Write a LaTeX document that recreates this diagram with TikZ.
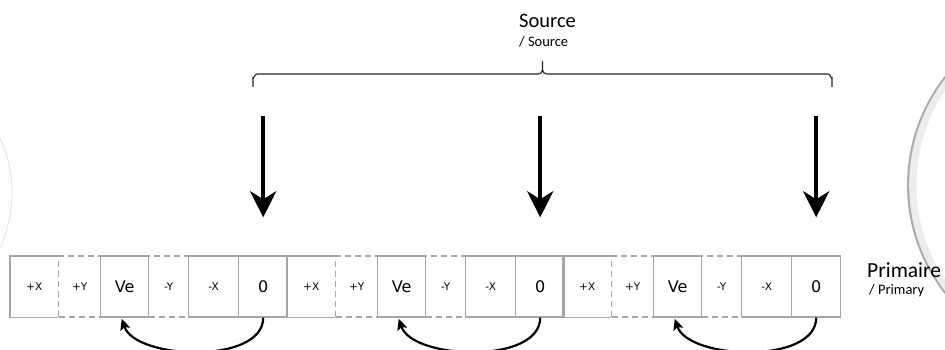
\documentclass[tikz,border=0pt]{standalone}
\usepackage{fontspec}
\setmainfont{Carlito}
\newfontfamily\cellfont{DejaVu Sans}
\usetikzlibrary{arrows.meta,calc}
\definecolor{cellgray}{HTML}{A6A6A6}
\begin{document}
\begin{tikzpicture}[x=1pt,y=-1pt,
  cellline/.style={draw=cellgray,line width=1.4pt},
  cell/.style={minimum height=61pt,inner sep=0pt,anchor=west,
    font=\cellfont\fontsize{10.5}{12}\selectfont},
  solidcell/.style={cell,cellline},
  dashcell/.style={cell,draw=cellgray,line width=1.4pt,dash pattern=on 6pt off 4pt},
  bigtext/.style={font=\cellfont\fontsize{16}{19}\selectfont},
  bigarrow/.style={line width=4.5pt,-{Stealth[length=26pt,width=26pt,inset=8pt]}},
  loop/.style={line width=2.2pt,-{Stealth[length=11pt,width=10pt,inset=2pt]}},
  title/.style={anchor=west,inner sep=0pt,font=\fontsize{20.5}{24}\selectfont},
  subtitle/.style={anchor=west,inner sep=0pt,font=\fontsize{14.5}{17}\selectfont}]
\useasboundingbox (0,0) rectangle (945,350);
% background circles
\draw[gray!22,line width=0.8pt] (-120,193) circle (132);
\fill[gray!65] (1083,185) circle (176);
\fill[gray!14] (1084,185) circle (174.8);
\fill[white] (1086.5,185) circle (170);
% cells
\foreach \g/\o in {1/10,2/287,3/563}{
  \node[dashcell,minimum width=42pt] (py\g) at (\o+48,286.5) {+Y};
  \node[dashcell,minimum width=40pt] (my\g) at (\o+138,286.5) {-Y};
  \node[cell,minimum width=48pt] (px\g) at (\o,286.5) {+X};
  \draw[cellline] (px\g.north east) -- (px\g.north west) -- (px\g.south west) -- (px\g.south east);
  \node[solidcell,bigtext,minimum width=48pt] (ve\g) at (\o+90,286.5) {Ve};
  \node[solidcell,minimum width=50pt] (mx\g) at (\o+178,286.5) {-X};
  \node[solidcell,bigtext,minimum width=49pt] (z\g) at (\o+228,286.5) {0};
  \coordinate (st\g) at ($(z\g.north)+(0,-139)$);
  \coordinate (en\g) at ($(z\g.north)+(0,-38)$);
  \draw[bigarrow] (st\g) -- (en\g);
  \draw[loop] (z\g.south) .. controls ($(z\g.south)+(0,47)$) and ($(ve\g.south)+(11,42)$) .. ($(ve\g.south)+(-3,1)$);
}
% brace
\coordinate (bl) at (253,87);
\coordinate (br) at (832,87);
\coordinate (bt) at (542.5,61);
\draw[line width=1.1pt,black!85]
  (bl) -- (253,78) to[out=-90,in=180] (257,74) -- (538.5,74)
  to[out=0,in=-90] (bt) to[out=-90,in=180] (546.5,74) -- (828,74)
  to[out=0,in=-90] (832,78) -- (br);
% titles
\node[title] (src) at (519,21) {Source};
\node[subtitle] (srcsub) at (519,42) {/ Source};
\node[title,font=\fontsize{21.5}{25}\selectfont] (pri) at (867,270) {Primaire};
\node[subtitle] (prisub) at (869,291) {/ Primary};
\end{tikzpicture}
\end{document}
